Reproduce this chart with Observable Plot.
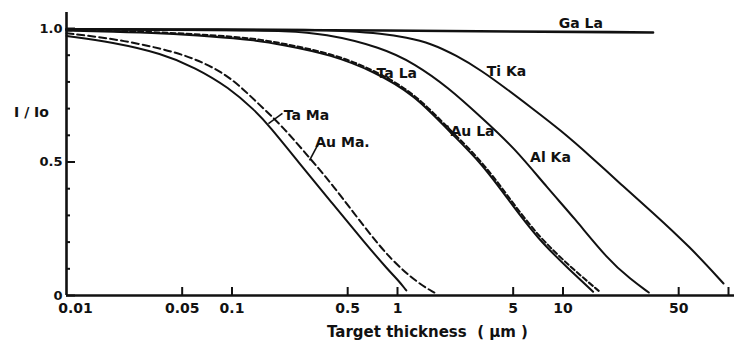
<!DOCTYPE html>
<html>
<head>
<meta charset="utf-8">
<script src="https://cdn.jsdelivr.net/npm/d3@7"></script>
<script src="https://cdn.jsdelivr.net/npm/@observablehq/plot@0.6"></script>
<style>
  html, body { margin: 0; padding: 0; background: #fff; }
</style>
</head>
<body>
<div id="chart"></div>
<script>
// ---- Data (thickness in µm, relative intensity I/Io) ----
const gaLaX = [0.01, 1, 35];
const gaLaY = [0.997, 0.993, 0.985];

const tiKaX = [0.01, 0.1, 0.30, 0.50, 0.801, 1.133, 1.60, 2.27, 3.21, 4.54, 6.42, 9.73, 14.75, 22.4, 33.9, 59.0, 93.3];
const tiKaY = [0.998, 0.997, 0.996, 0.990, 0.981, 0.967, 0.944, 0.899, 0.843, 0.775, 0.704, 0.618, 0.520, 0.416, 0.318, 0.180, 0.045];

const alKaX = [0.01, 0.132, 0.20, 0.363, 0.801, 1.266, 2.03, 3.21, 5.07, 8.12, 11.65, 18.67, 25.7, 33.0];
const alKaY = [0.997, 0.993, 0.991, 0.982, 0.929, 0.869, 0.779, 0.667, 0.554, 0.400, 0.292, 0.135, 0.060, 0.011];

const taLaX = [0.01, 0.019, 0.038, 0.076, 0.132, 0.200, 0.400, 0.727, 1.266, 2.03, 3.21, 4.66, 7.07, 11.17, 15.2];
const taLaY = [0.992, 0.988, 0.982, 0.970, 0.958, 0.940, 0.902, 0.838, 0.752, 0.618, 0.497, 0.360, 0.210, 0.092, 0.014];

const auLaX = [0.01, 0.019, 0.038, 0.076, 0.132, 0.200, 0.400, 0.727, 1.266, 2.03, 3.21, 4.66, 7.07, 11.17, 16.9];
const auLaY = [0.994, 0.991, 0.986, 0.975, 0.964, 0.945, 0.907, 0.844, 0.758, 0.626, 0.506, 0.371, 0.222, 0.105, 0.011];

const taMaX = [0.01, 0.0189, 0.0379, 0.0598, 0.0959, 0.1376, 0.167, 0.2535, 0.400, 0.633, 0.883, 1.014, 1.13];
const taMaY = [0.972, 0.949, 0.906, 0.854, 0.779, 0.693, 0.637, 0.498, 0.348, 0.198, 0.094, 0.056, 0.019];

const auMaX = [0.01, 0.0189, 0.0379, 0.0598, 0.0959, 0.1376, 0.200, 0.303, 0.400, 0.633, 0.920, 1.338, 1.67];
const auMaY = [0.982, 0.963, 0.925, 0.888, 0.824, 0.730, 0.637, 0.506, 0.419, 0.255, 0.131, 0.045, 0.011];

// Axis ticks and labels
const xTickValues = [0.01, 0.05, 0.1, 0.5, 1, 5, 10, 50];
const xTickLabels = ["0.01", "0.05", "0.1", "0.5", "1", "5", "10", "50"];
const xTickMarks = [0.05, 0.1, 0.5, 1, 5, 10, 50, 100];
const yTickValues = [0, 0.5, 1.0];
const yTickLabels = ["0", "0.5", "1.0"];
const yMinorTicks = [0.1, 0.2, 0.3, 0.4, 0.6, 0.7, 0.8, 0.9];

// Curve labels (name, anchor in data units)
const labelText = ["Ga La", "Ti Ka", "Al Ka", "Ta La", "Au La", "Ta Ma", "Au Ma."];
const labelX = [12.8, 4.56, 8.4, 0.99, 2.84, 0.282, 0.465];
const labelY = [1.019, 0.839, 0.517, 0.831, 0.614, 0.674, 0.573];

// Leader lines from labels to curves
const leaderX1 = [0.2018, 0.333, 2.0];
const leaderY1 = [0.682, 0.569, 0.637];
const leaderX2 = [0.166, 0.294, 2.15];
const leaderY2 = [0.644, 0.506, 0.599];

// ---- Build tables ----
const series = [
  {name: "Ga La", x: gaLaX, y: gaLaY, dash: null},
  {name: "Ti Ka", x: tiKaX, y: tiKaY, dash: null},
  {name: "Al Ka", x: alKaX, y: alKaY, dash: null},
  {name: "Ta La", x: taLaX, y: taLaY, dash: null},
  {name: "Au La", x: auLaX, y: auLaY, dash: "5,3"},
  {name: "Ta Ma", x: taMaX, y: taMaY, dash: null},
  {name: "Au Ma", x: auMaX, y: auMaY, dash: "7,4"}
];
const toRows = s => s.x.map((x, i) => ({series: s.name, x, y: s.y[i]}));
const labels = labelText.map((t, i) => ({text: t, x: labelX[i], y: labelY[i]}));
const leaders = leaderX1.map((x, i) => ({x1: x, y1: leaderY1[i], x2: leaderX2[i], y2: leaderY2[i]}));
const xLabelRows = xTickValues.map((v, i) => ({x: v, text: xTickLabels[i]}));

const W = 734, H = 349, mL = 66, mR = 6, mT = 12, mB = 54;
const fw = W - mL - mR, fh = H - mT - mB;
const ink = "#111";

const lineMarks = series.map(s => Plot.line(toRows(s), {
  x: "x", y: "y", curve: "basis",
  stroke: ink, strokeWidth: s.name === "Ga La" ? 2.6 : 2,
  strokeDasharray: s.dash ?? undefined
}));

const chart = Plot.plot({
  width: W, height: H,
  marginLeft: mL, marginRight: mR, marginTop: mT, marginBottom: mB,
  x: {type: "log", domain: [0.01, 100], axis: null},
  y: {domain: [0, 1.06], axis: null},
  style: {fontFamily: "DejaVu Sans, sans-serif", background: "#fff", color: ink},
  marks: [
    // x tick labels (first one nudged right of the y-axis label "0")
    Plot.text(xLabelRows.slice(1), {x: "x", text: "text", frameAnchor: "bottom", textAnchor: "middle", lineAnchor: "top", dy: 8, fontSize: 14, fontWeight: "bold", fill: ink}),
    Plot.text(xLabelRows.slice(0, 1), {x: "x", text: "text", frameAnchor: "bottom", textAnchor: "middle", lineAnchor: "top", dy: 8, dx: 9, fontSize: 14, fontWeight: "bold", fill: ink}),
    Plot.axisY({ticks: yTickValues, tickSize: 0, tickPadding: 4, label: null,
      tickFormat: d => yTickLabels[yTickValues.indexOf(d)], fontSize: 13, fontWeight: "bold"}),
    Plot.tickX(xTickMarks, {x: d => d, insetTop: fh - 8, stroke: ink, strokeWidth: 2}),
    Plot.tickY(yTickValues, {y: d => d, insetRight: fw - 9, stroke: ink, strokeWidth: 2}),
    Plot.tickY(yMinorTicks, {y: d => d, insetRight: fw - 4, stroke: ink, strokeWidth: 2}),
    Plot.ruleX([0.01], {stroke: ink, strokeWidth: 2.6}),
    Plot.ruleY([0], {stroke: ink, strokeWidth: 2.6, insetRight: -6}),
    ...lineMarks,
    Plot.link(leaders, {x1: "x1", y1: "y1", x2: "x2", y2: "y2", stroke: ink, strokeWidth: 1.6}),
    Plot.text(labels, {x: "x", y: "y", text: "text", fontSize: 14, fontWeight: "bold", fill: ink}),
    Plot.text(["Target thickness  ( μm )"], {frameAnchor: "bottom", textAnchor: "middle", lineAnchor: "middle", dy: 37, dx: 30, fontSize: 15, fontWeight: "bold", fill: ink}),
    Plot.text(["I / Io"], {frameAnchor: "left", textAnchor: "middle", dx: -35, dy: -41, fontSize: 14, fontWeight: "bold", fill: ink})
  ]
});
document.getElementById("chart").appendChild(chart);
</script>
</body>
</html>
